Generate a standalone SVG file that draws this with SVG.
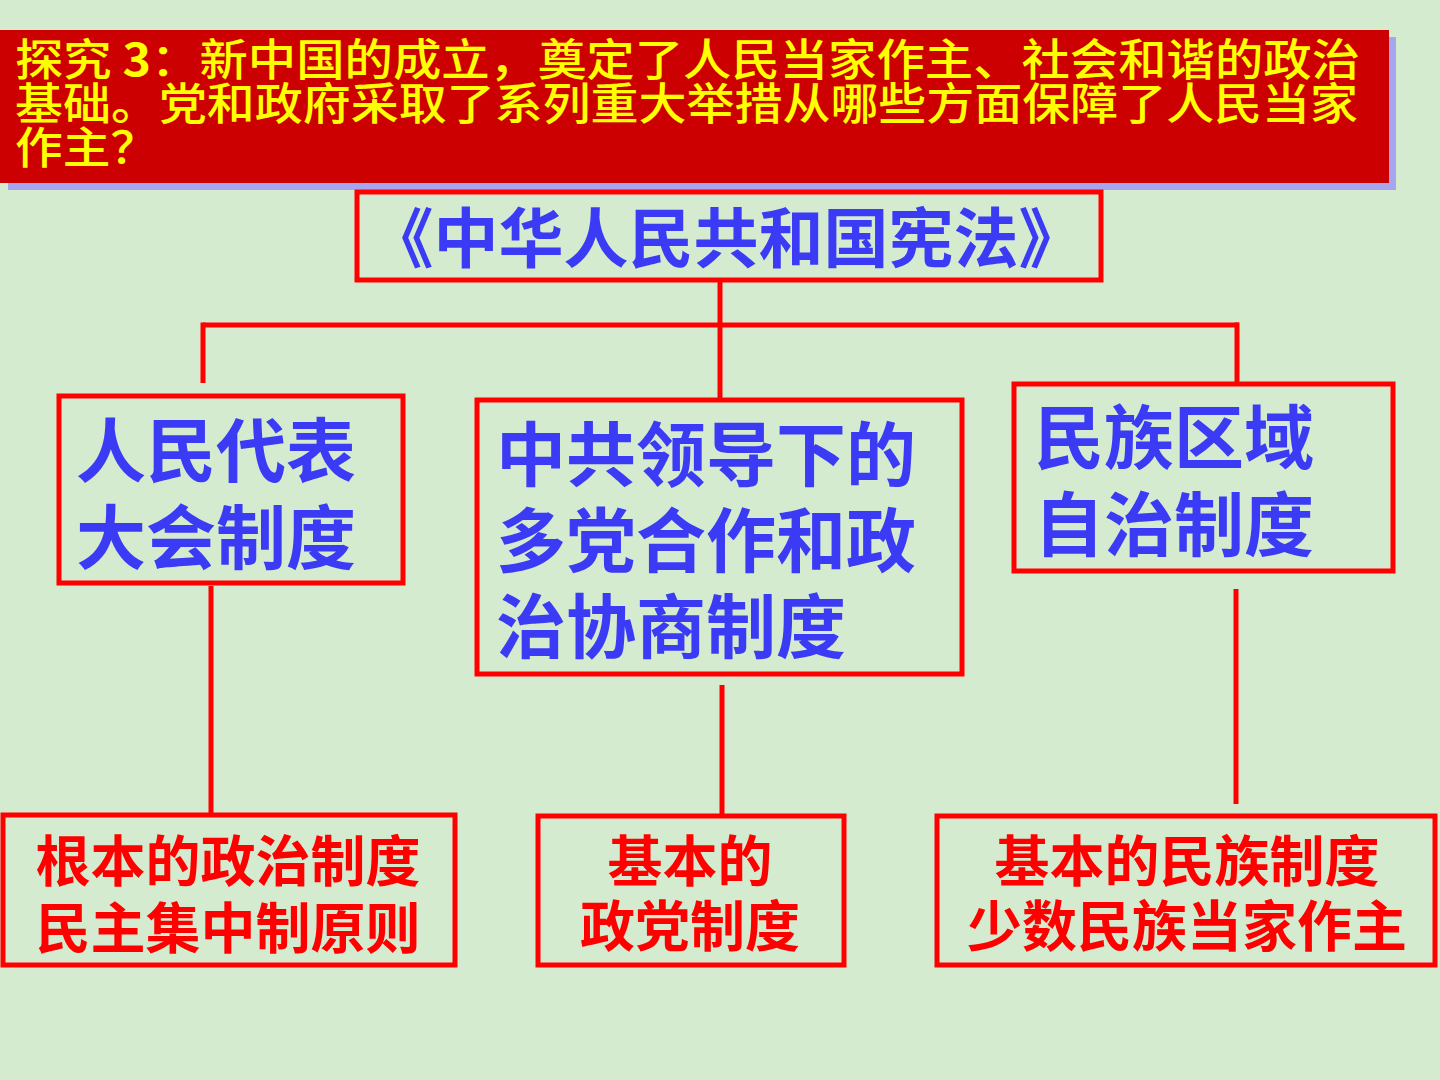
<svg xmlns="http://www.w3.org/2000/svg" width="1440" height="1080" viewBox="0 0 1440 1080">
<style>
.box{fill:none;stroke:#ff0000;stroke-width:5}
.con{stroke:#ff0000;stroke-width:5;fill:none}
.hdr{font-family:"Noto Sans CJK SC",sans-serif;font-size:44px;fill:#ffff00;font-weight:500}
.blue{font-family:"Noto Sans CJK SC",sans-serif;font-weight:700;fill:#3b3bf5;font-size:70px}
.title{font-family:"Noto Sans CJK SC",sans-serif;font-weight:700;fill:#3b3bf5;font-size:65px}
.red{font-family:"Noto Sans CJK SC",sans-serif;font-weight:700;fill:#ff0000;font-size:55px;text-anchor:middle}
</style>
<rect x="0" y="0" width="1440" height="1080" fill="#d4ebd0"/>
<g id="header">
<rect x="8" y="37" width="1388" height="153" fill="#a6a6ee"/>
<rect x="0" y="30" width="1389" height="153" fill="#cc0000"/>
<text class="hdr" x="15" y="76" textLength="1345" lengthAdjust="spacingAndGlyphs">探究 <tspan font-weight="700">3</tspan>：新中国的成立，奠定了人民当家作主、社会和谐的政治</text>
<text class="hdr" x="15" y="120" textLength="1343" lengthAdjust="spacingAndGlyphs">基础。党和政府采取了系列重大举措从哪些方面保障了人民当家</text>
<text class="hdr" x="15" y="164" textLength="143" lengthAdjust="spacingAndGlyphs">作主？</text>
</g>
<g id="connectors">
<line class="con" x1="720" y1="280" x2="720" y2="398"/>
<line class="con" x1="203" y1="325" x2="1239" y2="325"/>
<line class="con" x1="203" y1="322.5" x2="203" y2="383"/>
<line class="con" x1="1237" y1="322.5" x2="1237" y2="382"/>
<line class="con" x1="211" y1="586" x2="211" y2="813"/>
<line class="con" x1="722" y1="685" x2="722" y2="814"/>
<line class="con" x1="1236" y1="589" x2="1236" y2="804"/>
</g>
<g id="constitution">
<rect class="box" x="357" y="192" width="744" height="88"/>
<text class="title" x="726" y="262" text-anchor="middle">《中华人民共和国宪法》</text>
</g>
<g id="npc">
<rect class="box" x="59" y="396" width="344" height="187"/>
<text class="blue" x="76" y="477">人民代表</text>
<text class="blue" x="76" y="564">大会制度</text>
</g>
<g id="cpc">
<rect class="box" x="477" y="400" width="485" height="274"/>
<text class="blue" x="496" y="481">中共领导下的</text>
<text class="blue" x="496" y="567">多党合作和政</text>
<text class="blue" x="496" y="653">治协商制度</text>
</g>
<g id="ethnic">
<rect class="box" x="1014" y="384" width="379" height="187"/>
<text class="blue" x="1034" y="464">民族区域</text>
<text class="blue" x="1034" y="551">自治制度</text>
</g>
<g id="fundamental">
<rect class="box" x="3" y="815" width="452" height="150"/>
<text class="red" x="228" y="881">根本的政治制度</text>
<text class="red" x="228" y="948">民主集中制原则</text>
</g>
<g id="party">
<rect class="box" x="538" y="816" width="306" height="149"/>
<text class="red" x="690" y="881">基本的</text>
<text class="red" x="690" y="946">政党制度</text>
</g>
<g id="nation">
<rect class="box" x="937" y="816" width="498" height="149"/>
<text class="red" x="1187" y="881">基本的民族制度</text>
<text class="red" x="1187" y="946">少数民族当家作主</text>
</g>
</svg>
